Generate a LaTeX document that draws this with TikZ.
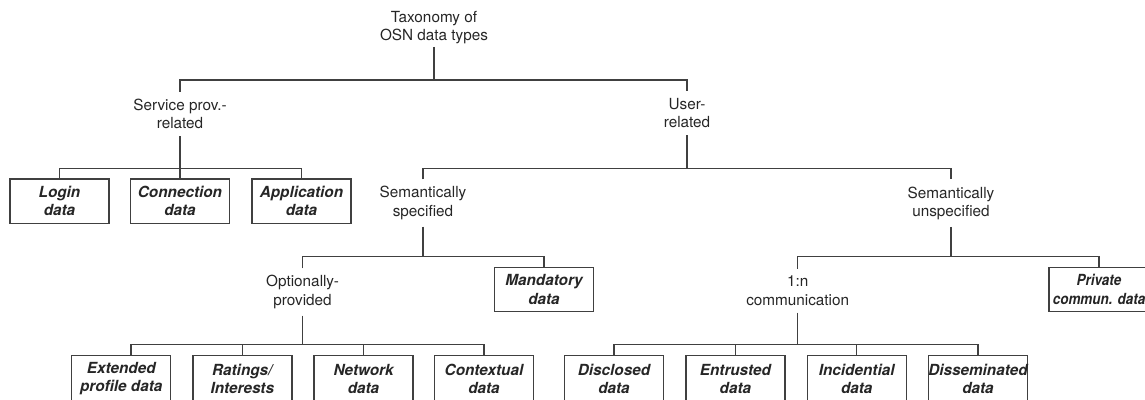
\documentclass[tikz,border=0pt]{standalone}
\usepackage{fontspec}
\setmainfont{TeX Gyre Heros}
\newfontfamily\narrowheros[FakeStretch=0.88]{TeX Gyre Heros}
\begin{document}
\begin{tikzpicture}[x=1pt,y=-1pt,
  lbl/.style={align=center, inner xsep=0pt, inner ysep=7pt,
    font=\fontsize{15.3}{18.3}\selectfont, text=black!85},
  cat/.style={draw=black!75, line width=1.4pt, fill=white, minimum width=99pt,
    minimum height=44.3pt, inner sep=0pt, align=center,
    font=\fontsize{15.3}{18.3}\selectfont\bfseries\itshape, text=black!85},
  leaf/.style={cat, minimum height=46pt},
  conn/.style={draw=black!75, line width=1.2pt}]
\useasboundingbox (0,0) rectangle (1145,399);

% text nodes
\node[lbl, inner ysep=3pt] (root) at (434,27.35) {Taxonomy of\\OSN data types};
\node[lbl] (spr) at (180,114.05) {Service prov.-\\related};
\node[lbl] (usr) at (687,113.25) {User-\\related};
\node[lbl] (ssp) at (423,203) {Semantically\\specified};
\node[lbl] (sun) at (951,203.2) {Semantically\\unspecified};
\node[lbl] (opt) at (302.6,292) {Optionally-\\provided};
\node[lbl] (onen) at (797.7,290.65) {1:n\\communication};

% boxes
\node[cat] (login) at (59.5,201.2) {Login\\data};
\node[cat] (conn) at (180,201.2) {Connection\\data};
\node[cat] (app) at (301.5,201.2) {Application\\data};
\node[cat] (mand) at (544,289.5) {Mandatory\\data};
\node[cat, minimum width=100pt, font=\narrowheros\fontsize{15.3}{18.3}\selectfont\bfseries\itshape]
  (prv) at (1099,289.5) {Private\\commun. data};

\node[leaf] (ext) at (121.2,378.7) {Extended\\profile data};
\node[leaf] (rat) at (242.3,378.7) {Ratings/\\Interests};
\node[leaf] (net) at (363.5,378.7) {Network\\data};
\node[leaf] (ctx) at (484,378.7) {Contextual\\data};
\node[leaf] (dis) at (614,378.7) {Disclosed\\data};
\node[leaf] (ent) at (735.4,378.7) {Entrusted\\data};
\node[leaf] (inc) at (856.7,378.7) {Incidential\\data};
\node[leaf] (dsm) at (978,378.7) {Disseminated\\data};

% bus levels
\coordinate (b0) at (0,80);
\coordinate (b1) at (0,168.3);
\coordinate (b3) at (0,256.5);
\coordinate (b5) at (0,344.8);
\coordinate (extc) at ([xshift=9.8pt]ext.north);

% level 0
\draw[conn] (root.south) -- (root.south |- b0);
\draw[conn] (spr.north) -- (spr.north |- b0) -- (usr.north |- b0) -- (usr.north);
% service provider
\draw[conn] (spr.south) -- (spr.south |- b1);
\draw[conn] (login.north) -- (login.north |- b1) -- (app.north |- b1) -- (app.north);
\draw[conn] (conn.north) -- (conn.north |- b1);
% user related
\draw[conn] (usr.south) -- (usr.south |- b1);
\draw[conn] (ssp.north) -- (ssp.north |- b1) -- (sun.north |- b1) -- (sun.north);
% semantically specified
\draw[conn] (ssp.south) -- (ssp.south |- b3);
\draw[conn] (opt.north) -- (opt.north |- b3) -- (mand.north |- b3) -- (mand.north);
% semantically unspecified
\draw[conn] (sun.south) -- (sun.south |- b3);
\draw[conn] (onen.north) -- (onen.north |- b3) -- (prv.north |- b3) -- (prv.north);
% optionally provided
\draw[conn] (opt.south) -- (opt.south |- b5);
\draw[conn] (extc) -- (extc |- b5) -- (ctx.north |- b5) -- (ctx.north);
\draw[conn] (rat.north) -- (rat.north |- b5);
\draw[conn] (net.north) -- (net.north |- b5);
% 1:n communication
\draw[conn] (onen.south) -- (onen.south |- b5);
\draw[conn] (dis.north) -- (dis.north |- b5) -- (dsm.north |- b5) -- (dsm.north);
\draw[conn] (ent.north) -- (ent.north |- b5);
\draw[conn] (inc.north) -- (inc.north |- b5);
\end{tikzpicture}
\end{document}
